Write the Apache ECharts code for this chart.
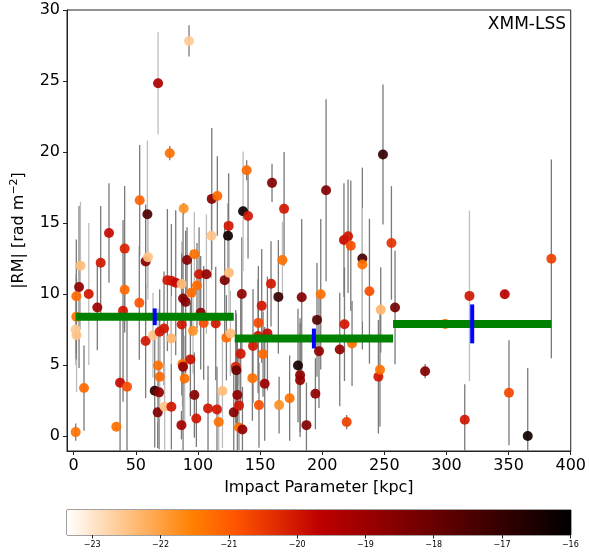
<!DOCTYPE html>
<html>
<head>
<meta charset="utf-8">
<script src="https://cdn.jsdelivr.net/npm/echarts@6/dist/echarts.min.js"></script>
<style>
  html, body { margin: 0; padding: 0; background: #fff; }
  #chart { width: 589px; height: 559px; }
</style>
</head>
<body>
<div id="chart"></div>
<script>
// Impact parameter [kpc] of each source
const impact = [
  1.6, 1.5, 2.3, 2.1, 2.1, 4.3, 5.4, 8.3, 12.1, 19.0,
  21.7, 28.4, 34.3, 37.3, 39.7, 41.0, 41.0, 42.9, 52.8, 53.1,
  57.9, 57.9, 59.3, 59.8, 63.8, 65.2, 67.6, 67.9, 67.9, 68.7,
  69.2, 69.2, 72.7, 73.2, 75.4, 77.3, 78.6, 78.6, 78.6, 82.1,
  86.7, 86.9, 86.9, 87.5, 88.0, 88.0, 88.5, 89.3, 90.1, 91.2,
  92.8, 93.9, 94.7, 96.0, 97.1, 97.1, 98.7, 99.2, 100.9, 102.2,
  104.6, 106.8, 108.1, 110.8, 111.1, 114.3, 115.3, 115.6, 116.7, 119.7,
  121.5, 122.9, 124.2, 124.7, 125.0, 126.1, 128.8, 130.4, 130.9, 131.7,
  135.3, 133.0, 133.0, 134.4, 135.8, 136.3, 139.2, 140.3, 143.8, 144.3,
  148.4, 148.6, 149.1, 151.3, 152.4, 153.7, 155.9, 158.8, 159.6, 164.7,
  165.3, 168.0, 169.3, 173.8, 180.5, 182.2, 182.2, 183.5, 187.3, 194.5,
  195.8, 197.4, 198.8, 203.1, 214.1, 217.5, 217.9, 219.7, 220.8, 223.0,
  224.0, 232.3, 232.3, 238.0, 245.2, 246.5, 247.1, 248.9, 255.7, 258.6,
  282.8, 299.0, 314.7, 318.5, 346.9, 350.3, 365.4, 384.4
];
// |RM| [rad m^-2]
const rm = [
  0.28, 7.5, 7.1, 8.4, 9.85, 10.5, 12.0, 3.38, 10.0, 9.05,
  12.2, 14.3, 0.66, 3.75, 8.82, 10.3, 13.2, 3.47, 9.38, 16.6,
  6.69, 12.3, 15.62, 12.6, 7.1, 3.19, 1.67, 24.84, 4.97, 3.08,
  7.34, 4.18, 7.58, 2.06, 10.98, 19.92, 10.93, 6.87, 2.06, 10.8,
  0.77, 10.7, 7.86, 5.07, 9.69, 4.88, 16.02, 4.06, 9.45, 12.4,
  27.82, 5.4, 10.1, 7.41, 12.8, 2.89, 1.24, 10.6, 11.4, 8.68,
  7.97, 11.4, 1.95, 14.1, 16.7, 7.93, 1.88, 16.91, 0.99, 3.17,
  10.98, 6.92, 14.1, 14.8, 11.5, 7.23, 1.67, 4.88, 4.64, 2.89,
  10.0, 2.16, 0.61, 5.79, 0.47, 15.83, 18.72, 15.5, 4.08, 6.35,
  7.04, 7.97, 2.18, 9.17, 5.77, 3.68, 7.23, 10.72, 17.83, 9.8,
  2.18, 12.39, 16.0, 2.67, 4.97, 4.29, 3.94, 9.78, 0.77, 2.98,
  8.18, 5.98, 9.99, 17.31, 6.1, 13.8, 7.88, 0.99, 14.07, 13.4,
  6.52, 12.5, 12.08, 10.2, 4.18, 4.67, 8.89, 19.82, 13.6, 9.05,
  4.57, 7.9, 1.15, 9.87, 9.99, 3.05, 0.0, 12.48
];
// 1-sigma uncertainty on |RM|
const rmErr = [
  0.6, 2.5, 4.0, 3.0, 4.0, 5.7, 4.5, 3.0, 5.0, 3.0,
  4.0, 3.5, 0.3, 5.0, 6.4, 3.0, 4.4, 5.0, 4.0, 3.9,
  4.0, 4.0, 5.2, 3.0, 3.0, 4.0, 2.5, 3.6, 4.0, 4.0,
  3.0, 3.0, 4.0, 3.0, 5.0, 0.5, 4.0, 3.0, 3.0, 5.1,
  1.0, 3.0, 5.0, 3.0, 6.0, 6.0, 0.4, 3.0, 5.0, 2.3,
  1.1, 4.0, 3.0, 3.0, 3.0, 3.0, 2.0, 3.0, 3.3, 4.0,
  4.0, 4.2, 3.0, 3.0, 5.0, 4.0, 3.0, 2.8, 2.0, 4.0,
  4.0, 3.0, 2.3, 3.7, 3.0, 3.0, 3.0, 4.0, 4.0, 4.0,
  4.0, 4.0, 3.0, 4.0, 3.0, 4.2, 0.7, 3.0, 3.0, 4.0,
  4.0, 4.0, 3.0, 4.0, 3.0, 4.0, 4.0, 3.0, 1.35, 4.0,
  2.0, 2.7, 4.0, 3.0, 4.0, 4.0, 4.0, 5.5, 3.0, 2.5,
  4.0, 4.0, 5.3, 6.4, 4.0, 4.0, 4.0, 0.5, 4.0, 4.6,
  3.0, 6.4, 4.0, 5.1, 4.0, 4.0, 3.0, 4.93, 4.0, 4.0,
  0.5, 0.3, 2.5, 6.0, 0.3, 3.7, 4.8, 7.0
];
// colour quantity of each source (colour-bar scale)
const colourVal = [
  -21.3, -22.6, -22.5, -21.3, -21.2, -18.8, -22.4, -21.2, -20.0, -19.0,
  -20.0, -19.8, -21.3, -19.8, -20.0, -21.2, -20.2, -20.8, -20.9, -21.1,
  -20.0, -18.6, -17.5, -22.5, -22.5, -16.8, -18.5, -19.3, -21.3, -18.8,
  -20.0, -21.2, -20.0, -22.5, -20.0, -21.3, -20.0, -22.3, -20.0, -19.8,
  -19.2, -22.4, -20.0, -21.3, -18.5, -18.8, -21.8, -21.3, -18.6, -18.6,
  -22.6, -19.9, -21.2, -21.8, -21.3, -18.6, -20.0, -21.2, -20.0, -18.8,
  -20.8, -18.8, -20.0, -22.5, -18.6, -20.0, -20.0, -21.2, -21.3, -22.4,
  -18.3, -21.2, -16.3, -20.0, -22.4, -22.4, -18.6, -20.2, -18.0, -18.8,
  -18.8, -20.0, -21.3, -20.0, -18.8, -16.3, -21.2, -20.0, -21.3, -20.0,
  -20.0, -20.7, -20.8, -20.0, -21.2, -19.0, -19.8, -20.0, -18.5, -17.0,
  -21.8, -21.3, -20.0, -21.3, -16.5, -18.8, -18.8, -18.5, -18.5, -18.8,
  -17.6, -18.8, -21.3, -18.5, -18.8, -19.8, -20.0, -20.6, -20.0, -20.8,
  -21.3, -17.3, -21.3, -20.8, -20.0, -21.3, -22.3, -17.0, -20.4, -18.2,
  -18.5, -21.3, -20.0, -20.0, -19.6, -20.7, -16.3, -20.6
];
// error-bar shade: 0 = darker grey, 1 = lighter grey
const errShade = [
  0, 1, 1, 0, 0, 0, 1, 0, 1, 0,
  0, 0, 0, 0, 0, 0, 0, 0, 0, 0,
  0, 0, 1, 1, 1, 0, 0, 1, 1, 0,
  0, 1, 0, 1, 0, 0, 0, 1, 0, 0,
  0, 1, 0, 1, 0, 0, 0, 1, 0, 0,
  0, 0, 0, 1, 1, 0, 0, 0, 0, 0,
  0, 1, 0, 1, 0, 0, 0, 0, 1, 1,
  0, 0, 0, 0, 1, 1, 0, 0, 0, 0,
  0, 0, 1, 0, 0, 1, 0, 0, 0, 0,
  0, 0, 0, 0, 0, 0, 0, 0, 0, 0,
  0, 1, 0, 0, 0, 0, 0, 0, 0, 0,
  0, 0, 0, 0, 0, 0, 0, 0, 0, 0,
  0, 0, 1, 0, 0, 0, 0, 0, 0, 0,
  0, 0, 0, 1, 0, 0, 0, 0
];

// binned statistics
const binLo = [1.6, 129.6, 257.0];
const binHi = [128.8, 257.0, 384.4];
const binMed = [8.40, 6.87, 7.90];
const binErr = [0.59, 0.70, 1.37];

// axis ticks
const xTicks = [0, 50, 100, 150, 200, 250, 300, 350, 400];
const yTicks = [0, 5, 10, 15, 20, 25, 30];
const cbTicks = [-23, -22, -21, -20, -19, -18, -17, -16];
const cbMin = -23.37, cbMax = -15.99;

// gist_heat_r colour map, sampled evenly (exact at its break points)
const heatR = ['#ffffff', '#ffd5aa', '#ffaa55', '#ff8000', '#ff5500', '#df2b00',
  '#bf0000', '#9f0000', '#800000', '#600000', '#400000', '#200000', '#000000'];

const FONT = 'DejaVu Sans';

const pts = impact.map((x, i) => [x, rm[i], colourVal[i]]);
const errs = impact.map((x, i) => [x, rm[i], rmErr[i], errShade[i]]);
const bins = binLo.map((lo, i) => [lo, binHi[i], binMed[i], binErr[i]]);

const chart = echarts.init(document.getElementById('chart'), null, { renderer: 'canvas' });

const option = {
  animation: false,
  backgroundColor: '#fff',
  textStyle: { fontFamily: FONT },
  grid: [
    { left: 67, top: 10, width: 504, height: 441, show: true, borderColor: '#222', borderWidth: 1, backgroundColor: 'transparent' },
    { left: 67, top: 510, width: 504, height: 25, show: true, borderColor: '#444', borderWidth: 1, backgroundColor: 'transparent' }
  ],
  xAxis: [
    {
      type: 'value', gridIndex: 0, min: -5.4, max: 400,
      splitLine: { show: false },
      axisLine: { show: true, onZero: false, lineStyle: { color: '#222', width: 1 } },
      axisTick: { show: true, length: 4, customValues: xTicks, lineStyle: { color: '#222' } },
      axisLabel: { customValues: xTicks, fontSize: 16, color: '#000', margin: 7, fontFamily: FONT },
      name: 'Impact Parameter [kpc]', nameLocation: 'middle', nameGap: 29,
      nameTextStyle: { fontSize: 16, color: '#000', fontFamily: FONT }
    },
    {
      type: 'value', gridIndex: 1, min: cbMin, max: cbMax,
      splitLine: { show: false },
      axisLine: { show: false },
      axisTick: { show: true, length: 3.5, customValues: cbTicks, lineStyle: { color: '#222' } },
      axisLabel: {
        customValues: cbTicks, fontSize: 8, color: '#000', margin: 6, fontFamily: FONT,
        formatter: v => String(v).replace('-', '\u2212')
      }
    }
  ],
  yAxis: [
    {
      type: 'value', gridIndex: 0, min: -1.05, max: 30,
      splitLine: { show: false },
      axisLine: { show: true, onZero: false, lineStyle: { color: '#222', width: 1 } },
      axisTick: { show: true, length: 4, customValues: yTicks, lineStyle: { color: '#222' } },
      axisLabel: { customValues: yTicks, fontSize: 16, color: '#000', margin: 7, fontFamily: FONT },
      name: '|RM| [rad m{sup|\u22122}]', nameLocation: 'middle', nameGap: 32, nameRotate: 90,
      nameTextStyle: {
        fontSize: 16, color: '#000', fontFamily: FONT, lineHeight: 20,
        rich: { sup: { fontSize: 11, color: '#000', fontFamily: FONT, verticalAlign: 'top', lineHeight: 20 } }
      }
    },
    {
      type: 'value', gridIndex: 1, min: 0, max: 1, show: false
    }
  ],
  visualMap: {
    show: false, type: 'continuous', min: cbMin, max: cbMax, dimension: 2,
    seriesIndex: 1, inRange: { color: heatR }
  },
  graphic: [
    {
      type: 'text', right: 23, top: 16,
      style: { text: 'XMM-LSS', font: '17px "DejaVu Sans"', fill: '#000' }
    }
  ],
  series: [
    {
      // vertical error bars of the individual sources
      type: 'custom', xAxisIndex: 0, yAxisIndex: 0, clip: true, z: 1,
      data: errs,
      renderItem: (params, api) => {
        const x = api.value(0), y = api.value(1), e = api.value(2), s = api.value(3);
        const p1 = api.coord([x, y - e]);
        const p2 = api.coord([x, y + e]);
        return {
          type: 'line',
          shape: { x1: p1[0], y1: p1[1], x2: p2[0], y2: p2[1] },
          style: { stroke: s ? '#bdbdbd' : '#7a7a7a', lineWidth: 1.3 }
        };
      }
    },
    {
      type: 'scatter', xAxisIndex: 0, yAxisIndex: 0, z: 2,
      symbolSize: 10, data: pts,
      itemStyle: { opacity: 0.92 }
    },
    {
      // binned medians (horizontal) with their uncertainties (vertical)
      type: 'custom', xAxisIndex: 0, yAxisIndex: 0, z: 3,
      data: bins,
      renderItem: (params, api) => {
        const lo = api.value(0), hi = api.value(1), m = api.value(2), e = api.value(3);
        const a = api.coord([lo, m]), b = api.coord([hi, m]);
        const c = (lo + hi) / 2;
        const t = api.coord([c, m + e]), d = api.coord([c, m - e]);
        return {
          type: 'group',
          children: [
            { type: 'line', shape: { x1: a[0], y1: a[1], x2: b[0], y2: b[1] },
              style: { stroke: '#008000', lineWidth: 8, lineCap: 'butt' } },
            { type: 'line', shape: { x1: t[0], y1: t[1], x2: d[0], y2: d[1] },
              style: { stroke: '#0000ff', lineWidth: 4, lineCap: 'butt' } }
          ]
        };
      }
    },
    {
      // colour bar
      type: 'custom', xAxisIndex: 1, yAxisIndex: 1, z: 1,
      data: [[cbMin, cbMax]],
      renderItem: (params, api) => {
        const p0 = api.coord([api.value(0), 1]);
        const p1 = api.coord([api.value(1), 0]);
        const stops = heatR.map((c, i) => ({ offset: i / (heatR.length - 1), color: c }));
        return {
          type: 'rect',
          shape: { x: p0[0], y: p0[1], width: p1[0] - p0[0], height: p1[1] - p0[1] },
          style: { fill: new echarts.graphic.LinearGradient(0, 0, 1, 0, stops) }
        };
      }
    }
  ]
};

chart.setOption(option);
</script>
</body>
</html>
